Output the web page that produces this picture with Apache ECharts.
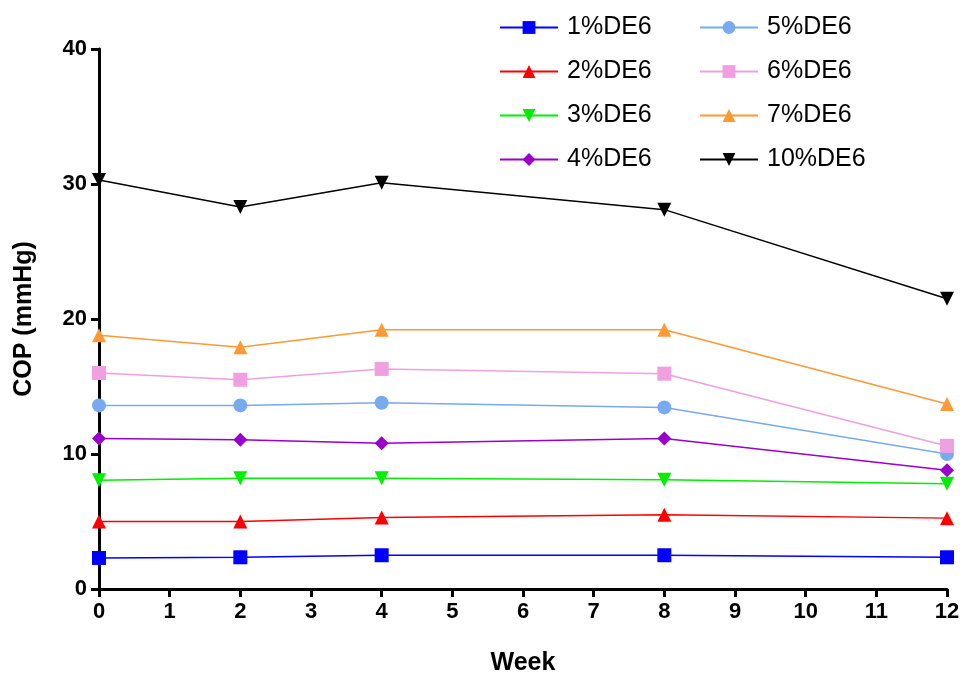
<!DOCTYPE html>
<html><head><meta charset="utf-8">
<script src="https://cdn.jsdelivr.net/npm/echarts@6/dist/echarts.min.js"></script>
<style>html,body{margin:0;background:#fff}#c{width:967px;height:681px}</style>
</head><body><div id="c"></div>
<script>
var weeks = [0, 2, 4, 8, 12];
var names = ['1%DE6','2%DE6','3%DE6','4%DE6','5%DE6','6%DE6','7%DE6','10%DE6'];
var colors = ['#0000ff','#ff0000','#00ee00','#9900cc','#77aaee','#f0a0e0','#ff9933','#000000'];
var symbols = ['rect','triangle','path://M0,0 L10,0 L5,10 Z','diamond','circle','rect','triangle','path://M0,0 L10,0 L5,10 Z'];
var values = [
  [2.3, 2.35, 2.5, 2.5, 2.35],
  [5.0, 5.0, 5.3, 5.5, 5.25],
  [8.05, 8.2, 8.2, 8.1, 7.8],
  [11.15, 11.05, 10.8, 11.15, 8.8],
  [13.6, 13.6, 13.8, 13.45, 10.0],
  [16.0, 15.5, 16.3, 15.95, 10.6],
  [18.8, 17.9, 19.2, 19.2, 13.7],
  [30.3, 28.3, 30.1, 28.1, 21.5]
];
var font = 'Liberation Sans, Arial, sans-serif';
var series = names.map(function (n, i) {
  return {
    name: n, type: 'line', symbol: symbols[i], symbolSize: 14,
    lineStyle: {color: colors[i], width: 1.5}, itemStyle: {color: colors[i]},
    data: weeks.map(function (w, j) { return [w, values[i][j]]; })
  };
});
function legend(data, left) {
  return {data: data, orient: 'vertical', left: left, top: 10, itemGap: 19, itemWidth: 58, itemHeight: 16,
    textStyle: {fontSize: 25, fontFamily: font, color: '#000', padding: [0, 0, 0, 4]}};
}
var axisCommon = {
  axisLine: {lineStyle: {color: '#000', width: 3}},
  axisTick: {length: 8, lineStyle: {color: '#000', width: 3}},
  axisLabel: {fontSize: 22, fontWeight: 'bold', fontFamily: font, color: '#000', margin: 12},
  splitLine: {show: false},
  nameTextStyle: {fontSize: 25, fontWeight: 'bold', fontFamily: font, color: '#000'}
};
var chart = echarts.init(document.getElementById('c'));
chart.setOption({
  animation: false,
  legend: [legend(names.slice(0, 4), 494), legend(names.slice(4), 694)],
  grid: {left: 99, right: 20, top: 49, bottom: 90},
  xAxis: Object.assign({type: 'value', min: 0, max: 12, interval: 1, name: 'Week',
    nameLocation: 'middle', nameGap: 62}, axisCommon),
  yAxis: Object.assign({type: 'value', min: 0, max: 40, interval: 10, name: 'COP (mmHg)',
    nameLocation: 'middle', nameGap: 62}, axisCommon),
  series: series
});
</script></body></html>
